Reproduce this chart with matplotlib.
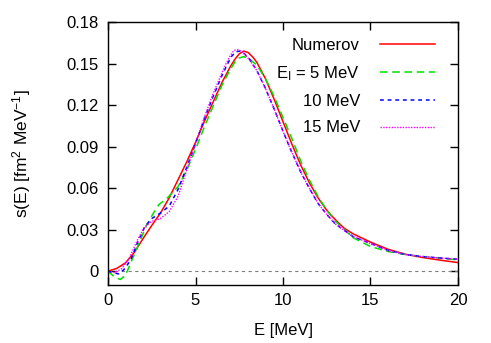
import matplotlib
matplotlib.use("Agg")
import matplotlib.pyplot as plt

plt.rcParams['font.family'] = ['Liberation Sans', 'DejaVu Sans']
plt.rcParams['mathtext.fontset'] = 'custom'
plt.rcParams['mathtext.rm'] = 'Liberation Sans'
plt.rcParams['mathtext.it'] = 'Liberation Sans:italic'

# Numerov
E_num = [0, 0.5, 1, 1.5, 2, 2.5, 3, 3.5, 4, 4.5, 5, 5.5, 6, 6.5, 7, 7.25, 7.5, 7.75, 8, 8.25, 8.5,
         9, 9.5, 10, 10.5, 11, 11.5, 12, 12.5, 13, 13.5, 14, 15, 16, 17, 18, 19, 20]
s_num = [0, 0.002, 0.006, 0.0135, 0.0235, 0.033, 0.042, 0.053, 0.066, 0.079, 0.093, 0.108, 0.122,
         0.136, 0.148, 0.153, 0.157, 0.159, 0.158, 0.155, 0.151, 0.139, 0.124, 0.108, 0.092, 0.077,
         0.064, 0.053, 0.044, 0.037, 0.031, 0.027, 0.021, 0.0158, 0.0122, 0.0098, 0.0079, 0.0062]

# E_l = 5 MeV
E_5 = [0, 0.35, 0.7, 1.0, 1.3, 1.7, 2.2, 2.6, 2.9, 3.4, 4, 4.5, 5, 5.5, 6, 6.5, 7, 7.25, 7.5, 7.75,
       8, 8.5, 9, 9.5, 10, 10.5, 11, 11.5, 12, 12.5, 13, 14, 15, 16, 17, 18, 19, 20]
s_5 = [0, -0.004, -0.006, -0.003, 0.006, 0.018, 0.033, 0.042, 0.048, 0.053, 0.061, 0.073, 0.088,
       0.104, 0.119, 0.134, 0.146, 0.151, 0.154, 0.155, 0.154, 0.149, 0.139, 0.126, 0.111, 0.096,
       0.080, 0.066, 0.054, 0.044, 0.036, 0.0242, 0.0178, 0.0142, 0.012, 0.0106, 0.0094, 0.0081]

# 10 MeV
E_10 = [0, 0.3, 0.6, 0.9, 1.3, 1.7, 2.1, 2.5, 3.0, 3.5, 4, 4.5, 5, 5.5, 6, 6.5, 6.8, 7.05, 7.3,
        7.55, 7.8, 8.1, 8.5, 9, 9.5, 10, 10.5, 11, 11.5, 12, 12.5, 13, 14, 15, 16, 17, 18, 19, 20]
s_10 = [0, -0.001, -0.002, 0.001, 0.008, 0.021, 0.032, 0.038, 0.042, 0.047, 0.059, 0.075, 0.092,
        0.110, 0.126, 0.141, 0.149, 0.155, 0.1585, 0.159, 0.157, 0.153, 0.145, 0.132, 0.117, 0.101,
        0.086, 0.072, 0.060, 0.049, 0.041, 0.034, 0.025, 0.020, 0.015, 0.012, 0.0105, 0.0095, 0.0086]

# 15 MeV
E_15 = [0, 0.4, 0.8, 1.2, 1.7, 2.1, 2.5, 3.0, 3.5, 4, 4.5, 5, 5.5, 6, 6.5, 6.75, 7, 7.2, 7.45,
        7.7, 8, 8.5, 9, 9.5, 10, 10.5, 11, 11.5, 12, 12.5, 13, 14, 15, 16, 17, 18, 19, 20]
s_15 = [0, -0.001, 0.002, 0.009, 0.023, 0.032, 0.036, 0.038, 0.043, 0.054, 0.073, 0.092, 0.111,
        0.128, 0.143, 0.150, 0.156, 0.1595, 0.160, 0.158, 0.154, 0.145, 0.132, 0.117, 0.101, 0.086,
        0.072, 0.060, 0.049, 0.041, 0.034, 0.025, 0.020, 0.015, 0.012, 0.0105, 0.0095, 0.0086]

labels = ["Numerov", r"E$_{\rm I}$ = 5 MeV", "10 MeV", "15 MeV"]
xticks = [0, 5, 10, 15, 20]
yticks = [0, 0.03, 0.06, 0.09, 0.12, 0.15, 0.18]
ytick_labels = ["0", "0.03", "0.06", "0.09", "0.12", "0.15", "0.18"]

fig = plt.figure(figsize=(4.91, 3.43), dpi=100)
ax = fig.add_axes([108/491, 58/343, 350/491, 263/343])

ax.plot([0, 20], [0, 0], color='#808080', lw=0.8, ls=(0, (3, 3)))
ax.plot(E_num, s_num, color='#ff0000', lw=1.1, label=labels[0])
ax.plot(E_5, s_5, color='#00e000', lw=1.1, ls=(0, (5, 3)), label=labels[1])
ax.plot(E_10, s_10, color='#0000ff', lw=1.1, ls=(0, (2.5, 2.5)), label=labels[2])
ax.plot(E_15, s_15, color='#ff00ff', lw=1.0, ls=(0, (1, 1)), label=labels[3])

ax.set_xlim(0, 20)
ax.set_ylim(-0.01, 0.18)
ax.set_xticks(xticks)
ax.set_yticks(yticks)
ax.set_yticklabels(ytick_labels)
ax.tick_params(direction='in', top=True, right=True, length=6, width=1, labelsize=12)
ax.tick_params(axis='y', pad=7)
ax.tick_params(axis='x', pad=6)
for sp in ax.spines.values():
    sp.set_linewidth(1.0)
ax.set_xlabel("E [MeV]", fontsize=12)
ax.xaxis.set_label_coords(0.5, -0.145)
ax.set_ylabel(r"s(E) [fm$^2$ MeV$^{-1}$]", fontsize=12.5)
ax.yaxis.set_label_coords(-0.214, 0.5)

leg = ax.legend(loc='upper right', bbox_to_anchor=(0.934, 0.94), frameon=False, markerfirst=False,
                fontsize=12, handlelength=3.3, handletextpad=1.2, labelspacing=0.68,
                borderaxespad=0, borderpad=0)

fig.savefig("out.png", dpi=100)
